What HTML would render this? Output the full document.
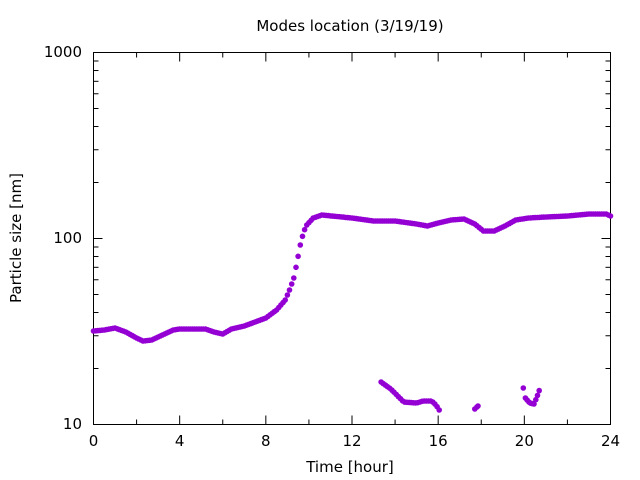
<!DOCTYPE html><html><head><style>body{margin:0;background:#fff}svg{display:block}text{font-family:"DejaVu Sans","Liberation Sans",sans-serif;font-size:15px;fill:#000}</style></head><body>
<svg id="s" width="640" height="480" xmlns="http://www.w3.org/2000/svg">
<rect width="640" height="480" fill="#fff"/>
<g id="ax" stroke="#000" stroke-width="1" fill="none"></g>
<rect x="93.5" y="52.5" width="517" height="372" fill="none" stroke="#000"/>
<text x="350" y="31" text-anchor="middle">Modes location (3/19/19)</text>
<text x="350" y="472" text-anchor="middle">Time [hour]</text>
<text transform="translate(21,238) rotate(-90)" text-anchor="middle">Particle size [nm]</text>
<text x="82" y="57" text-anchor="end">1000</text>
<text x="82" y="243" text-anchor="end">100</text>
<text x="82" y="429" text-anchor="end">10</text>
<g id="xl"></g>
<g id="pts" fill="#9400d3"></g>
</svg>
<script>
var L=93.5,R=610.5,T=52.5,B=424.5,ns="http://www.w3.org/2000/svg";
function X(h){return L+h*(R-L)/24}
var ax=document.getElementById('ax'),xl=document.getElementById('xl'),P=document.getElementById('pts');
function ln(x1,y1,x2,y2){var l=document.createElementNS(ns,'line');l.setAttribute('x1',x1);l.setAttribute('y1',y1);l.setAttribute('x2',x2);l.setAttribute('y2',y2);ax.appendChild(l)}
for(var h=0;h<=24;h+=2){var x=X(h),len=(h%4==0)?9:5;ln(x,B,x,B-len);ln(x,T,x,T+len);
if(h%4==0){var t=document.createElementNS(ns,'text');t.setAttribute('x',x);t.setAttribute('y',446);t.setAttribute('text-anchor','middle');t.textContent=h;xl.appendChild(t)}}
for(var d=0;d<2;d++)for(var m=1;m<=10;m++){if(m==1&&d>0)continue;var y=B-186*(d+Math.log10(m));var len=(m==1||m==10)?9:5;ln(L,y,L+len,y);ln(R,y,R-len,y)}
function interp(k,h){for(var i=0;i<k.length-1;i++){if(h>=k[i][0]&&h<=k[i+1][0]){var f=(h-k[i][0])/(k[i+1][0]-k[i][0]);return k[i][1]+f*(k[i+1][1]-k[i][1])}}return k[k.length-1][1]}
var main=[[0,331],[0.5,330],[1,328],[1.5,332],[2,338],[2.3,341],[2.7,340],[3.2,335],[3.7,330],[4,329],[5.2,329],[5.6,332],[6,334],[6.4,329],[7,326],[7.5,322],[8,318],[8.5,310],[8.9,300],[9.1,290],[9.3,278],[9.45,262],[9.6,245],[9.75,232],[9.9,225],[10.2,218],[10.6,215],[12,218],[13,221],[14,221],[15,224],[15.5,226],[16,223],[16.6,220],[17.2,219],[17.7,224],[18.1,231],[18.6,231],[19.1,226],[19.6,220],[20.2,218],[21,217],[22,216],[23,214],[23.8,214],[24,216]];
function dot(x,y){var c=document.createElementNS(ns,'circle');c.setAttribute('cx',x.toFixed(1));c.setAttribute('cy',y.toFixed(1));c.setAttribute('r',2.8);P.appendChild(c)}
for(var h=0;h<=24.001;h+=0.1)dot(X(h),interp(main,h));
var s1=[[13.35,382],[13.8,389],[14.4,402],[15,403],[15.3,401],[15.7,401],[15.9,405],[16.05,410]];
for(var h=13.35;h<=16.05;h+=0.1)dot(X(h),interp(s1,h));
dot(X(17.7),409);dot(X(17.8),407);dot(X(17.85),406);
var s3=[[20.05,398],[20.25,403],[20.45,404],[20.6,396],[20.7,390]];
dot(X(19.95),388);for(var h=20.05;h<=20.7;h+=0.08)dot(X(h),interp(s3,h));
</script></body></html>
